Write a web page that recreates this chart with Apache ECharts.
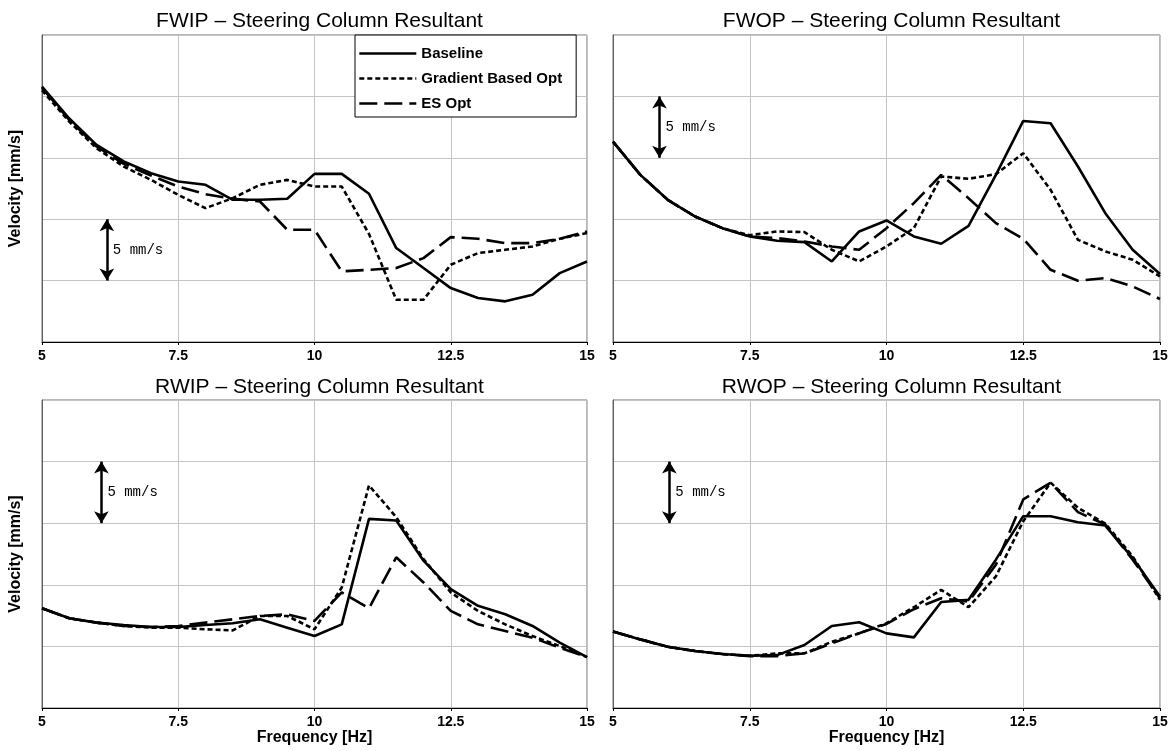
<!DOCTYPE html>
<html>
<head>
<meta charset="utf-8">
<script src="https://cdn.jsdelivr.net/npm/echarts@6/dist/echarts.min.js"></script>
<style>
html,body{margin:0;padding:0;background:#fff;}
#chart{width:1172px;height:751px;}
</style>
</head>
<body>
<div id="chart"></div>
<script>
// ---- data ----
const freq = [5,5.5,6,6.5,7,7.5,8,8.5,9,9.5,10,10.5,11,11.5,12,12.5,13,13.5,14,14.5,15];
const seriesNames = ['Baseline','Gradient Based Opt','ES Opt'];
const panelTitles = ['FWIP \u2013 Steering Column Resultant','FWOP \u2013 Steering Column Resultant','RWIP \u2013 Steering Column Resultant','RWOP \u2013 Steering Column Resultant'];
const xTicks = [5,7.5,10,12.5,15];

const fwipBaseline = [20.8,18.2,16.05,14.7,13.75,13.07,12.8,11.58,11.58,11.66,13.69,13.69,12.07,7.65,6.02,4.39,3.58,3.31,3.85,5.61,6.56];
const fwipGradient = [20.5,17.95,15.78,14.29,13.2,11.98,10.9,11.71,12.8,13.2,12.66,12.66,8.8,3.44,3.44,6.29,7.24,7.51,7.78,8.41,8.87];
const fwipES       = [20.7,18.09,15.92,14.51,13.56,12.66,12.04,11.66,11.44,9.14,9.14,5.75,5.88,6.02,6.83,8.54,8.41,8.05,8.05,8.41,9.0];

const fwopBaseline = [16.32,13.61,11.58,10.22,9.27,8.6,8.24,8.13,6.56,9.0,9.9,8.6,8.0,9.46,13.61,18.0,17.81,14.29,10.49,7.51,5.53];
const fwopGradient = [16.32,13.61,11.58,10.22,9.27,8.7,9.0,8.95,7.51,6.56,7.78,9.27,13.48,13.29,13.67,15.37,12.39,8.32,7.38,6.7,5.34];
const fwopES       = [16.32,13.61,11.58,10.22,9.27,8.6,8.46,8.19,7.78,7.51,9.27,11.31,13.61,11.71,9.68,8.41,5.88,4.99,5.21,4.53,3.5];

const rwipBaseline = [8.1,7.28,6.93,6.74,6.58,6.58,6.74,6.88,7.2,6.52,5.84,6.79,15.35,15.22,11.96,9.65,8.29,7.61,6.66,5.3,4.13];
const rwipGradient = [8.1,7.28,6.93,6.66,6.52,6.52,6.39,6.3,7.47,7.47,6.39,9.78,18.07,15.49,12.09,9.38,7.88,6.79,5.84,5.03,4.13];
const rwipES       = [8.1,7.28,6.93,6.66,6.58,6.66,6.93,7.2,7.47,7.61,7.07,9.38,8.1,12.23,10.19,7.88,6.79,6.25,5.71,4.89,4.13];

const rwopBaseline = [6.2,5.57,4.97,4.62,4.38,4.24,4.29,5.11,6.66,6.96,6.06,5.73,8.6,8.78,12.04,15.57,15.57,15.08,14.81,12.17,9.05];
const rwopGradient = [6.2,5.57,4.97,4.62,4.38,4.24,4.43,4.43,5.38,6.06,6.88,8.18,9.59,8.18,10.68,15.16,18.29,16.25,14.97,12.31,8.78];
const rwopES       = [6.2,5.57,4.97,4.62,4.38,4.21,4.21,4.43,5.24,6.06,6.82,8.02,8.91,8.64,11.63,16.93,18.29,15.9,14.89,12.04,8.91];

// scale-bar annotation: [x, yLow, yHigh] in data units (5 mm/s)
const scaleBars = [[6.19,5,10],[5.85,15,20],[6.09,15,20],[6.03,15,20]];
const scaleLabel = '5 mm/s';

const panelData = [
  [fwipBaseline, fwipGradient, fwipES],
  [fwopBaseline, fwopGradient, fwopES],
  [rwipBaseline, rwipGradient, rwipES],
  [rwopBaseline, rwopGradient, rwopES]
];

// ---- layout / style ----
const grids = [
  {left:42, top:35, width:545, height:307},
  {left:613, top:35, width:547, height:307},
  {left:42, top:400, width:545, height:308},
  {left:613, top:400, width:547, height:308}
];
const lineTypes = ['solid',[5,3],[18,7]];
const FONT = 'Liberation Sans';

const option = {
  animation:false,
  backgroundColor:'#fff',
  title: grids.map((g,i)=>({
    text: panelTitles[i],
    left: g.left + g.width/2,
    top: i<2 ? 6 : 372,
    textAlign:'center',
    textStyle:{fontFamily:FONT, fontSize:21, fontWeight:'normal', color:'#000'}
  })),
  legend:{
    data: seriesNames,
    orient:'vertical',
    left:355, top:35,
    backgroundColor:'#fff',
    borderColor:'#000', borderWidth:1,
    padding:[11,14,6,3],
    itemWidth:57, itemHeight:14, itemGap:10,
    itemStyle:{color:'rgba(0,0,0,0)', borderColor:'rgba(0,0,0,0)', borderWidth:0, opacity:0},
    lineStyle:{width:2.6},
    textStyle:{fontFamily:FONT, fontSize:15, fontWeight:'bold', color:'#000'}
  },
  grid: grids.map(g=>Object.assign({show:true, borderColor:'#707070', borderWidth:1, backgroundColor:'transparent'}, g)),
  xAxis: grids.map((g,i)=>({
    type:'value', gridIndex:i, min:5, max:15, interval:2.5,
    name: i>=2 ? 'Frequency [Hz]' : '',
    nameLocation:'middle', nameGap:22,
    nameTextStyle:{fontFamily:FONT, fontSize:16, fontWeight:'bold', color:'#000'},
    axisLine:{show:true, onZero:false, lineStyle:{color:'#000', width:1}},
    axisTick:{show:true, length:3, lineStyle:{color:'#000'}},
    axisLabel:{show:true, margin:7, fontFamily:FONT, fontSize:14, fontWeight:'bold', color:'#000',
      formatter: v => xTicks.indexOf(v)>=0 ? String(v) : ''},
    splitLine:{show:true, lineStyle:{color:'#c4c4c4', width:1}}
  })),
  yAxis: grids.map((g,i)=>({
    type:'value', gridIndex:i, min:0, max:25, interval:5,
    name: (i%2===0) ? 'Velocity [mm/s]' : '',
    nameLocation:'middle', nameGap:18,
    nameTextStyle:{fontFamily:FONT, fontSize:16, fontWeight:'bold', color:'#000'},
    axisLine:{show:true, onZero:false, lineStyle:{color:'#606060', width:1}},
    axisTick:{show:false},
    axisLabel:{show:false},
    splitLine:{show:true, lineStyle:{color:'#c4c4c4', width:1}}
  })),
  series: []
};

panelData.forEach((set, p)=>{
  set.forEach((vals, s)=>{
    const ser = {
      type:'line',
      name: seriesNames[s],
      xAxisIndex:p, yAxisIndex:p,
      data: freq.map((f,k)=>[f, vals[k]]),
      symbol:'none',
      lineStyle:{color:'#000', width:2.6, type: lineTypes[s]},
      itemStyle:{color:'#000'},
      z: 3 - s
    };
    if (s===0){
      const b = scaleBars[p];
      ser.markLine = {
        silent:true, symbol:['arrow','arrow'], symbolSize:[11,12],
        lineStyle:{color:'#000', width:2.5, type:'solid'},
        label:{show:false},
        data:[[{coord:[b[0], b[1]]},{coord:[b[0], b[2]]}]]
      };
      ser.markPoint = {
        silent:true,
        data:[{coord:[b[0], (b[1]+b[2])/2], symbol:'circle', symbolSize:0,
          label:{show:true, position:'right', distance:6, formatter: scaleLabel,
            fontFamily:'Liberation Mono', fontSize:14, color:'#000'}}]
      };
    }
    option.series.push(ser);
  });
});

const chart = echarts.init(document.getElementById('chart'), null, {renderer:'canvas'});
chart.setOption(option);
</script>
</body>
</html>
